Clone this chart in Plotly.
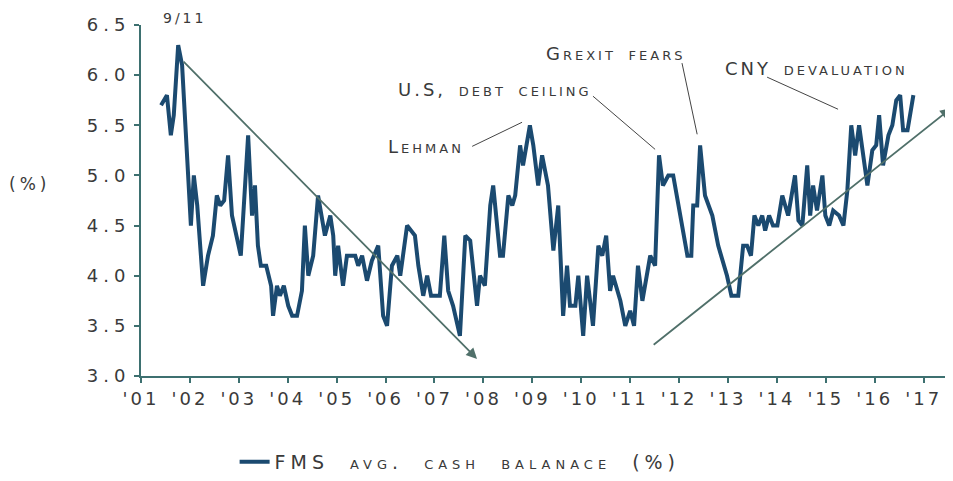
import plotly.graph_objects as go

# Decimal-year dates and FMS average cash balance (%)
dates = [
    2001.41, 2001.53, 2001.61, 2001.67, 2001.76, 2001.84, 2002.02, 2002.08, 2002.15, 2002.27,
    2002.37, 2002.47, 2002.55, 2002.62, 2002.70, 2002.78, 2002.86, 2002.96, 2003.04, 2003.19,
    2003.27, 2003.33, 2003.39, 2003.45, 2003.56, 2003.66, 2003.70, 2003.78, 2003.84, 2003.92,
    2004.01, 2004.09, 2004.19, 2004.29, 2004.35, 2004.42, 2004.52, 2004.62, 2004.76, 2004.87,
    2004.93, 2004.97, 2005.03, 2005.13, 2005.21, 2005.38, 2005.44, 2005.52, 2005.62, 2005.72,
    2005.85, 2005.95, 2006.03, 2006.13, 2006.24, 2006.30, 2006.44, 2006.60, 2006.67, 2006.77,
    2006.85, 2006.93, 2007.11, 2007.20, 2007.28, 2007.38, 2007.52, 2007.63, 2007.73, 2007.87,
    2007.93, 2008.03, 2008.14, 2008.20, 2008.34, 2008.40, 2008.51, 2008.59, 2008.65, 2008.75,
    2008.81, 2008.95, 2009.02, 2009.12, 2009.20, 2009.32, 2009.43, 2009.53, 2009.63, 2009.71,
    2009.77, 2009.88, 2009.94, 2010.04, 2010.12, 2010.18, 2010.24, 2010.35, 2010.43, 2010.51,
    2010.59, 2010.65, 2010.80, 2010.90, 2011.00, 2011.08, 2011.16, 2011.25, 2011.41, 2011.51,
    2011.59, 2011.67, 2011.78, 2011.88, 2012.02, 2012.08, 2012.17, 2012.25, 2012.29, 2012.37,
    2012.43, 2012.53, 2012.68, 2012.80, 2012.90, 2012.98, 2013.07, 2013.21, 2013.31, 2013.39,
    2013.47, 2013.54, 2013.62, 2013.70, 2013.76, 2013.84, 2013.92, 2014.01, 2014.11, 2014.23,
    2014.37, 2014.44, 2014.52, 2014.62, 2014.68, 2014.74, 2014.82, 2014.93, 2014.99, 2015.07,
    2015.15, 2015.27, 2015.36, 2015.44, 2015.52, 2015.60, 2015.68, 2015.77, 2015.85, 2015.95,
    2016.03, 2016.09, 2016.17, 2016.28, 2016.36, 2016.44, 2016.52, 2016.58, 2016.67, 2016.79,
]
cash_balance = [
    5.7, 5.8, 5.4, 5.6, 6.3, 6.1, 4.5, 5.0, 4.7, 3.9,
    4.2, 4.4, 4.8, 4.7, 4.75, 5.2, 4.6, 4.4, 4.2, 5.4,
    4.6, 4.9, 4.3, 4.1, 4.1, 3.9, 3.6, 3.9, 3.8, 3.9,
    3.7, 3.6, 3.6, 3.85, 4.5, 4.0, 4.2, 4.8, 4.4, 4.6,
    4.4, 4.0, 4.3, 3.9, 4.2, 4.2, 4.1, 4.2, 3.95, 4.15,
    4.3, 3.6, 3.5, 4.1, 4.2, 4.0, 4.5, 4.4, 4.1, 3.8,
    4.0, 3.8, 3.8, 4.4, 3.85, 3.7, 3.4, 4.4, 4.35, 3.7,
    4.0, 3.9, 4.7, 4.9, 4.2, 4.2, 4.8, 4.7, 4.8, 5.3,
    5.1, 5.5, 5.3, 4.9, 5.2, 4.9, 4.25, 4.7, 3.6, 4.1,
    3.7, 3.7, 4.0, 3.4, 4.0, 3.75, 3.5, 4.3, 4.2, 4.4,
    3.85, 4.0, 3.75, 3.5, 3.65, 3.5, 4.1, 3.75, 4.2, 4.1,
    5.2, 4.9, 5.0, 5.0, 4.6, 4.4, 4.2, 4.2, 4.7, 4.7,
    5.3, 4.8, 4.6, 4.3, 4.15, 4.0, 3.8, 3.8, 4.3, 4.3,
    4.2, 4.6, 4.5, 4.6, 4.45, 4.6, 4.5, 4.5, 4.8, 4.6,
    5.0, 4.55, 4.5, 5.1, 4.6, 4.9, 4.65, 5.0, 4.6, 4.5,
    4.65, 4.6, 4.5, 4.85, 5.5, 5.2, 5.5, 5.2, 4.9, 5.25,
    5.3, 5.6, 5.1, 5.4, 5.5, 5.75, 5.8, 5.45, 5.45, 5.8,
]

year_ticks = list(range(2001, 2018))
year_labels = ["'%02d" % (y % 100) for y in year_ticks]
y_ticks = [3.0, 3.5, 4.0, 4.5, 5.0, 5.5, 6.0, 6.5]
y_labels = ["%.1f" % v for v in y_ticks]

# Trend arrows (start, end) in data coordinates
down_arrow = dict(x0=2001.84, y0=6.15, x1=2007.87, y1=3.17)
up_arrow = dict(x0=2011.45, y0=3.30, x1=2017.56, y1=5.67)

# Event annotations: text, label x, label y, leader start, leader end
events = [
    ("Lehman", 2006.82, 5.29, (2007.77, 5.29), (2008.79, 5.53)),
    ("U.S, debt ceiling", 2008.24, 5.86, (2010.24, 5.79), (2011.51, 5.26)),
    ("Grexit fears", 2010.71, 6.22, (2012.06, 6.12), (2012.37, 5.41)),
    ("CNY devaluation", 2014.80, 6.07, (2013.80, 5.98), (2015.25, 5.66)),
]
top_label = ("9/11", 2001.88)

FONT = "DejaVu Sans"
AX = "#3d7070"
TXT = "#3a3a3a"


def spaced(s, ls=3, ws=0):
    return '<span style="letter-spacing:%dpx;word-spacing:%dpx">%s</span>' % (ls, ws, s)


fig = go.Figure()
fig.add_trace(go.Scatter(
    x=dates, y=cash_balance, mode="lines",
    line=dict(color="#1b4a70", width=4),
    name=spaced("FMS avg. cash balanace (%)", 5, 10),
))

anns = []
for a in (down_arrow, up_arrow):
    anns.append(dict(
        x=a["x1"], y=a["y1"], ax=a["x0"], ay=a["y0"],
        xref="x", yref="y", axref="x", ayref="y",
        showarrow=True, arrowhead=2, arrowsize=1.2, arrowwidth=1.8,
        arrowcolor="#50706a", text="",
    ))

for text, tx, ty, p0, p1 in events:
    anns.append(dict(
        x=tx, y=ty, xref="x", yref="y", text=spaced(text, 3, 4), showarrow=False,
        font=dict(family=FONT, size=18, color=TXT, variant="small-caps"),
        xanchor="center", yanchor="middle",
    ))

anns.append(dict(
    x=top_label[1], y=1.02, xref="x", yref="paper", text=spaced(top_label[0], 3),
    showarrow=False, xanchor="center", yanchor="middle",
    font=dict(family=FONT, size=14, color=TXT),
))

anns.append(dict(
    x=-0.137, y=0.548, xref="paper", yref="paper", text=spaced("(%)", 4),
    showarrow=False, xanchor="center", yanchor="middle",
    font=dict(family=FONT, size=17, color=TXT),
))

shapes = []
for text, tx, ty, p0, p1 in events:
    shapes.append(dict(type="line", xref="x", yref="y", x0=p0[0], y0=p0[1],
                       x1=p1[0], y1=p1[1], line=dict(color="#444444", width=1)))

fig.update_layout(
    width=945, height=473,
    margin=dict(l=133, r=0, t=17, b=102),
    paper_bgcolor="white", plot_bgcolor="white",
    font=dict(family=FONT, color=TXT),
    showlegend=True,
    legend=dict(
        orientation="h", x=0.393, y=-0.245, xanchor="center", yanchor="middle",
        font=dict(family=FONT, size=19, color=TXT, variant="small-caps"),
        bgcolor="rgba(0,0,0,0)",
    ),
    annotations=anns,
    shapes=shapes,
)

fig.update_xaxes(
    range=[2001, 2017.6], tickvals=year_ticks,
    ticktext=[spaced(t, 3) for t in year_labels],
    showgrid=False, zeroline=False, showline=True, linecolor=AX, linewidth=2,
    ticks="outside", ticklen=5, tickcolor=AX, tickwidth=2,
    tickfont=dict(family=FONT, size=18, color=TXT),
)
fig.update_yaxes(
    range=[3.0, 6.5], tickvals=y_ticks,
    ticktext=[spaced(t, 5) for t in y_labels],
    showgrid=False, zeroline=False, showline=True, linecolor=AX, linewidth=2,
    ticks="outside", ticklen=5, tickcolor=AX, tickwidth=2,
    tickfont=dict(family=FONT, size=18, color=TXT),
)

fig.write_html("out.html")
